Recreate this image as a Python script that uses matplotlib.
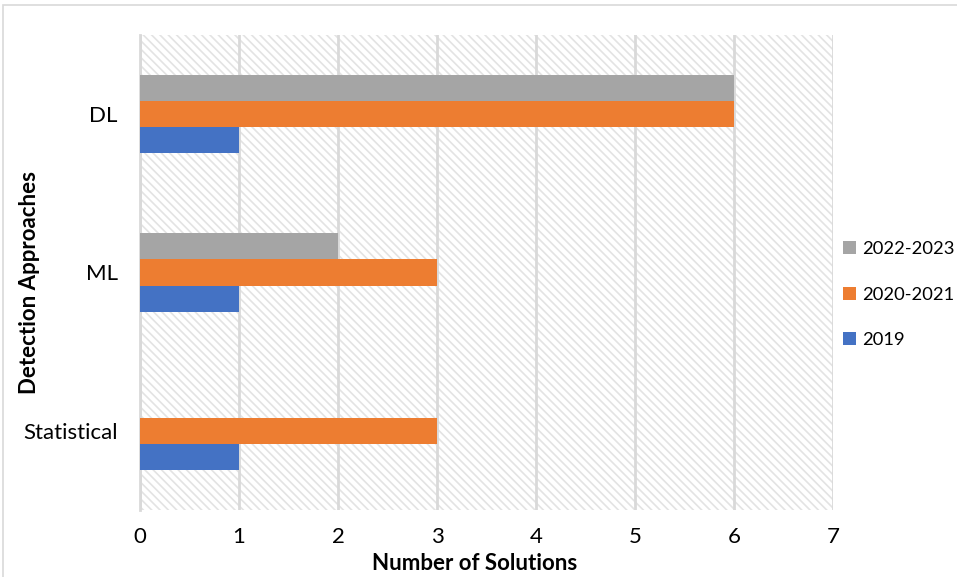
import matplotlib
matplotlib.use("Agg")
import matplotlib.pyplot as plt
from matplotlib.patches import Rectangle
import numpy as np

categories = ["Statistical", "ML", "DL"]
series_names = ["2019", "2020-2021", "2022-2023"]
values_2019 = [1, 1, 1]
values_2020_2021 = [3, 3, 6]
values_2022_2023 = [0, 2, 6]
colors = ["#4472C4", "#ED7D31", "#A5A5A5"]
x_ticks = [0, 1, 2, 3, 4, 5, 6, 7]

plt.rcParams['font.family'] = ['Lato', 'DejaVu Sans']
plt.rcParams['hatch.color'] = '#d9d9d9'
plt.rcParams['hatch.linewidth'] = 1.2

FS = 16

fig = plt.figure(figsize=(9.57, 5.77), dpi=100)
ax = fig.add_axes([140/957, 1-510/577, (833-140)/957, (510-35)/577])

# figure border
fig.patches.append(Rectangle((3/957, -0.1), 1.2, 1 - 5/577 + 0.1, transform=fig.transFigure,
                             fill=False, edgecolor='#d9d9d9', linewidth=1.2, zorder=0))

# hatched background
ax.add_patch(Rectangle((0, 0), 1, 1, transform=ax.transAxes, facecolor='white',
                       edgecolor='#e3e3e3', hatch='\\\\\\\\', linewidth=0, zorder=0))

y = np.arange(len(categories))
h = 0.165
all_vals = [values_2019, values_2020_2021, values_2022_2023]
offsets = [-h, 0, h]
for vals, name, c, off in zip(all_vals, series_names, colors, offsets):
    ax.barh(y + off, vals, height=h, color=c, label=name, zorder=3)

ax.set_xlim(0, 7)
ax.set_ylim(-0.5, 2.5)
ax.set_xticks(x_ticks)
ax.set_yticks(y)
ax.set_yticklabels(categories)
ax.xaxis.grid(True, color='#d9d9d9', linewidth=2, zorder=1)
ax.set_axisbelow(True)
for s in ['top', 'right', 'bottom']:
    ax.spines[s].set_visible(False)
ax.spines['left'].set_color('#d9d9d9')
ax.spines['left'].set_linewidth(2)
ax.tick_params(length=0, labelsize=FS, colors='black')
ax.tick_params(axis='x', pad=12)
ax.tick_params(axis='y', pad=16)

fig.text(475/957, 1-563/577, "Number of Solutions", fontsize=FS, fontweight='bold',
         ha='center', va='center')
fig.text(30/957, 1-282/577, "Detection Approaches", fontsize=FS, fontweight='bold',
         ha='center', va='center', rotation=90)

handles, labels = ax.get_legend_handles_labels()
leg = fig.legend(handles[::-1], labels[::-1], loc='upper left', bbox_to_anchor=(836/957, 1-234/577),
                 frameon=False, fontsize=13.2, handlelength=0.7, handleheight=0.7,
                 labelspacing=1.6, handletextpad=0.35, borderaxespad=0)

fig.savefig("out.png", dpi=100)
